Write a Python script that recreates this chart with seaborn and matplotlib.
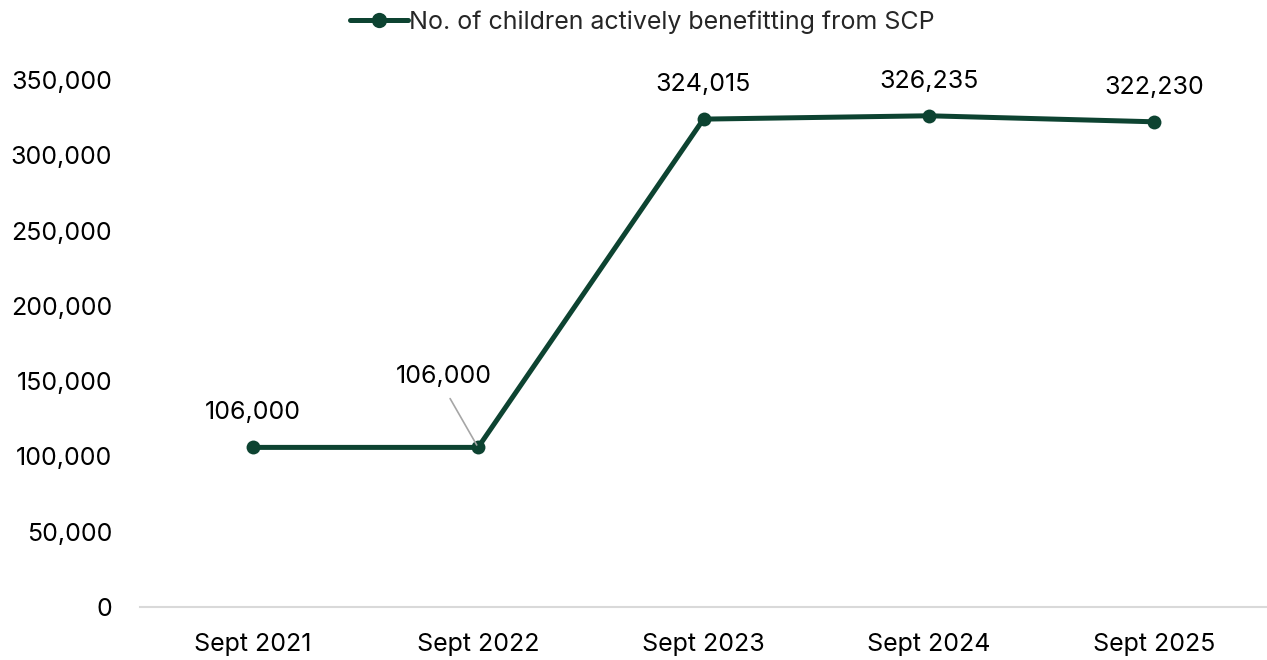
import matplotlib
matplotlib.use("Agg")
import matplotlib.pyplot as plt
import seaborn as sns
import pandas as pd

periods = ["Sept 2021", "Sept 2022", "Sept 2023", "Sept 2024", "Sept 2025"]
children = [106000, 106000, 324015, 326235, 322230]
series_name = "No. of children actively benefitting from SCP"

sns.set_theme(style="white")
plt.rcParams["font.family"] = ["Inter", "DejaVu Sans"]

line_color = "#0d4331"
fs = 18

df = pd.DataFrame({"period": periods, "children": children, "series": series_name})
df["pos"] = range(len(df))

fig = plt.figure(figsize=(12.67, 6.6), dpi=100)
ax = fig.add_axes([0.1105, 0.0803, 0.8895, 0.7985])

sns.lineplot(data=df, x="pos", y="children", hue="series", palette=[line_color],
             marker="o", markersize=10, linewidth=3.6, markeredgewidth=0,
             ax=ax, sort=False)

ax.set_xlim(-0.5, len(periods) - 0.5)
ax.set_ylim(0, 350000)
ax.set_yticks(range(0, 350001, 50000))
ax.set_yticklabels([f"{v:,}" for v in range(0, 350001, 50000)], fontsize=fs)
ax.set_xticks(range(len(periods)))
ax.set_xticklabels(periods, fontsize=fs)
ax.tick_params(axis="both", length=0, colors="#000000")
ax.tick_params(axis="x", pad=19)
ax.tick_params(axis="y", pad=20)
ax.set_xlabel("")
ax.set_ylabel("")
for side in ["top", "right", "left"]:
    ax.spines[side].set_visible(False)
ax.spines["bottom"].set_color("#d9d9d9")
ax.spines["bottom"].set_linewidth(1.5)

# value labels
for i, v in enumerate(children):
    if i == 1:
        ax.annotate(f"{v:,}", xy=(i, v), xytext=(-24.5, 51), textcoords="offset points",
                    ha="center", va="center", fontsize=fs, color="#000000",
                    arrowprops=dict(arrowstyle="-", color="#a6a6a6", lw=1.2,
                                    relpos=(0.5, 0.0), shrinkA=6, shrinkB=2))
    else:
        ax.annotate(f"{v:,}", xy=(i, v), xytext=(0, 25), textcoords="offset points",
                    ha="center", va="center", fontsize=fs, color="#000000")

leg = ax.legend(loc="center", bbox_to_anchor=(0.446, 1.11), frameon=False,
                fontsize=fs, handlelength=2.3, handletextpad=0.05,
                borderaxespad=0)
for h in leg.get_lines():
    h.set_linewidth(3.6)
    h.set_markersize(11)

fig.savefig("out.png", dpi=100)
